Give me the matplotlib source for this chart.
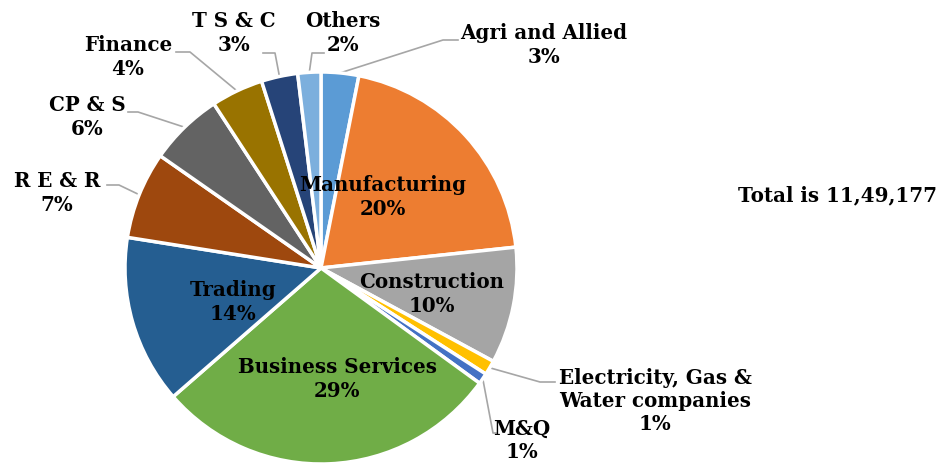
import matplotlib.pyplot as plt
import numpy as np

sectors = ['Agri and Allied', 'Manufacturing', 'Construction',
           'Electricity, Gas &\nWater companies', 'M&Q', 'Business Services',
           'Trading', 'R E & R', 'CP & S', 'Finance', 'T S & C', 'Others']
shares = [3.1, 20.2, 9.6, 1.2, 0.9, 28.6, 13.9, 7.2, 6.1, 4.3, 3.0, 1.9]
colors = ['#5B9BD5', '#ED7D31', '#A5A5A5', '#FFC000', '#4472C4', '#70AD47',
          '#255E91', '#9E480E', '#636363', '#997300', '#264478', '#7CAFDD']
total_text = 'Total is 11,49,177'

# label centre positions in pixels (x, y from top)
label_pos = [(544, 45), (383, 197), (432, 294), (655, 401), (522, 440), (337, 379),
             (233, 302), (57, 193), (87, 117), (128, 57), (234, 33), (343, 33)]
# leader line elbow and end points (pixels)
leaders = {0: [(443, 40), (458, 40)],
           3: [(540, 382), (555, 382)],
           4: [(493, 433), (496, 433)],
           7: [(119, 185), (107, 185)],
           8: [(138, 112), (128, 112)],
           9: [(190, 52), (176, 52)],
           10: [(275, 53), (263, 53)],
           11: [(312, 53), (324, 53)]}

W, H = 942, 463
cx, cy, R = 321, H - 268, 196

fig = plt.figure(figsize=(9.42, 4.63), dpi=100)
ax = fig.add_axes([0, 0, 1, 1])

wedges, _ = ax.pie(shares, colors=colors, startangle=90, counterclock=False,
                   center=(cx, cy), radius=R, frame=True,
                   wedgeprops=dict(edgecolor='white', linewidth=2.5))
ax.set_xlim(0, W)
ax.set_ylim(0, H)
ax.set_aspect('equal')
ax.axis('off')

font = dict(family='DejaVu Serif', weight='bold', fontsize=14.3, color='black')

for i, w in enumerate(wedges):
    txt = sectors[i] + '\n' + f'{round(shares[i])}%'
    x, y = label_pos[i]
    ax.text(x, H - y, txt, ha='center', va='center', linespacing=1.2, **font)
    if i in leaders:
        mid = np.deg2rad((w.theta1 + w.theta2) / 2)
        pts = [(cx + R * np.cos(mid), cy + R * np.sin(mid))]
        pts += [(px, H - py) for px, py in leaders[i]]
        xs, ys = zip(*pts)
        ax.plot(xs, ys, color='#A6A6A6', lw=1.2, zorder=0)

ax.text(838, H - 195, total_text, ha='center', va='center', **font)

fig.savefig('out.png', dpi=100)
